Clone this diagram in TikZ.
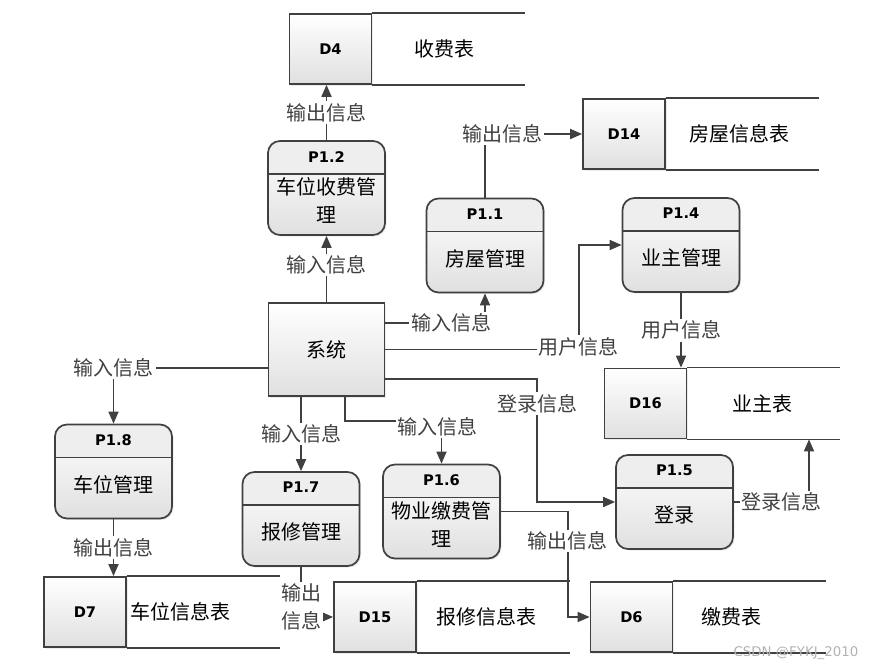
\documentclass[tikz,border=0pt]{standalone}
\usepackage{fontspec}
\setmainfont{Noto Sans CJK SC}
\newfontfamily\idfont{DejaVu Sans}
\usepackage{tikz}
\usetikzlibrary{calc}
\usetikzlibrary{arrows.meta}
\usetikzlibrary{shadows}
\definecolor{linec}{HTML}{404040}
\definecolor{headc}{HTML}{EEEEEE}
\definecolor{shadec}{HTML}{E0E0E0}

\begin{document}
\begin{tikzpicture}[x=0.75pt,y=-0.75pt,
  >={Triangle[length=9pt,width=7.5pt]},
  every node/.style={font=\fontsize{15}{21}\selectfont},
  conn/.style={linec,line width=1.3pt},
  lab/.style={fill=white,inner sep=1.5pt},
  idtext/.style={font=\idfont\bfseries\fontsize{11}{13}\selectfont},
  shade/.style={top color=white,bottom color=shadec,
    drop shadow={shadow xshift=1.2pt,shadow yshift=-1.2pt,opacity=0.15}},
  proc/.style={shade,draw=linec,line width=1.3pt,rounded corners=9pt,
    minimum width=87.75pt,minimum height=70.5pt,
    path picture={
      \fill[headc,sharp corners] (path picture bounding box.north west) rectangle ([yshift=-24.75pt]path picture bounding box.north east);
      \draw[linec,line width=1.3pt,sharp corners] ([yshift=-24.75pt]path picture bounding box.north west) -- ([yshift=-24.75pt]path picture bounding box.north east);}},
  sys/.style={shade,draw=linec,line width=1.3pt,minimum width=87pt,minimum height=69.75pt},
  store/.style={shade,idtext,draw=linec,line width=1.3pt,minimum width=61.5pt,minimum height=52.5pt}]

  \useasboundingbox (0,0) rectangle (875,670);

  % System
  \node[sys] (sys) at (326.5,349.5) {系统};

  % Processes
  \node[proc] (p12) at (326.5,188) {};
  \node[idtext] (p12id) at ($(p12.north)+(0,16.5)$) {P1.2};
  \node[align=center] (p12txt) at ($(p12.center)+(0,13)$) {车位收费管\\理};

  \node[proc] (p11) at (485,245.5) {};
  \node[idtext] (p11id) at ($(p11.north)+(0,16.5)$) {P1.1};
  \node (p11txt) at ($(p11.center)+(0,13)$) {房屋管理};

  \node[proc] (p14) at (681,245) {};
  \node[idtext] (p14id) at ($(p14.north)+(0,16.5)$) {P1.4};
  \node (p14txt) at ($(p14.center)+(0,13)$) {业主管理};

  \node[proc] (p18) at (113.5,471.5) {};
  \node[idtext] (p18id) at ($(p18.north)+(0,16.5)$) {P1.8};
  \node (p18txt) at ($(p18.center)+(0,13)$) {车位管理};

  \node[proc] (p17) at (301,519) {};
  \node[idtext] (p17id) at ($(p17.north)+(0,16.5)$) {P1.7};
  \node (p17txt) at ($(p17.center)+(0,13)$) {报修管理};

  \node[proc] (p16) at (441.5,511.5) {};
  \node[idtext] (p16id) at ($(p16.north)+(0,16.5)$) {P1.6};
  \node[align=center] (p16txt) at ($(p16.center)+(0,13)$) {物业缴费管\\理};

  \node[proc] (p15) at (674.5,502) {};
  \node[idtext] (p15id) at ($(p15.north)+(0,16.5)$) {P1.5};
  \node (p15txt) at ($(p15.center)+(0,13)$) {登录};

  % Data stores
  \node[store] (d4) at (330.5,49) {D4};
  \draw[conn] (d4.north east) -- ++(153,0) (d4.south east) -- ++(153,0);
  \node (d4name) at (444,49) {收费表};

  \node[store] (d14) at (624,134) {D14};
  \draw[conn] (d14.north east) -- ++(153,0) (d14.south east) -- ++(153,0);
  \node (d14name) at (739,134) {房屋信息表};

  \node[store] (d16) at (645.5,403.5) {D16};
  \draw[conn] (d16.north east) -- ++(153,0) (d16.south east) -- ++(153,0);
  \node (d16name) at (762,403.5) {业主表};

  \node[store] (d7) at (85,612) {D7};
  \draw[conn] (d7.north east) -- ++(153,0) (d7.south east) -- ++(153,0);
  \node (d7name) at (180,612) {车位信息表};

  \node[store] (d15) at (375,617) {D15};
  \draw[conn] (d15.north east) -- ++(153,0) (d15.south east) -- ++(153,0);
  \node (d15name) at (486,617) {报修信息表};

  \node[store] (d6) at (631.5,617) {D6};
  \draw[conn] (d6.north east) -- ++(153,0) (d6.south east) -- ++(153,0);
  \node (d6name) at (731,617) {缴费表};

  % Flows
  \draw[conn,->] (sys.north) -- (p12.south) node[lab,pos=0.56] (l1) {输入信息};
  \draw[conn,->] (p12.north) -- (p12.north |- d4.south) node[lab,midway] (l2) {输出信息};
  \draw[conn,->] (p11.north) |- (d14.west) node[lab,pos=0.59] (l3) {输出信息};
  \draw[conn,->] ($(sys.east)+(0,-26.5)$) -| (p11.south) node[lab,pos=0.33] (l4) {输入信息};
  \draw[conn,->] (sys.east) -| ($(p14.west)+(-43,0)$) node[lab,pos=0.5,yshift=2pt] (l5) {用户信息} -- (p14.west);
  \draw[conn,->] ($(sys.east)+(0,29.5)$) -| ($(p15.west)+(-78,0)$) node[lab,pos=0.6] (l6) {登录信息} -- (p15.west);
  \draw[conn,->] (p14.south) -- (p14.south |- d16.north) node[lab,midway] (l7) {用户信息};
  \draw[conn,->] (p15.east) -| ($(d16.south)+(163.5,0)$) node[lab,pos=0.32] (l8) {登录信息};
  \draw[conn,->] ($(sys.west)+(0,18.5)$) -| (p18.north) node[lab,pos=0.5] (l9) {输入信息};
  \draw[conn,->] (p18.south) -- (p18.south |- d7.north) node[lab,midway] (l10) {输出信息};
  \draw[conn,->] (sys.south -| p17.north) -- (p17.north) node[lab,midway] (l11) {输入信息};
  \draw[conn,->] ($(sys.south)+(18.5,0)$) |- ($(p16.north)+(0,-43)$) node[lab,pos=1,xshift=-3pt,yshift=-4.5pt] (l12) {输入信息} -- (p16.north);
  \draw[conn,->] (p17.south) |- (d15.west) node[lab,pos=0.5,align=center,yshift=7.5pt] (l13) {输出\\信息};
  \draw[conn,->] (p16.east) -| ($(d6.west)+(-22,0)$) node[lab,pos=0.64] (l14) {输出信息} -- (d6.west);

  % Watermark
  \node[text=black!30,font=\idfont\fontsize{10}{12}\selectfont] (wm) at (796,653) {CSDN @FYKJ\_2010};

\end{tikzpicture}
\end{document}
